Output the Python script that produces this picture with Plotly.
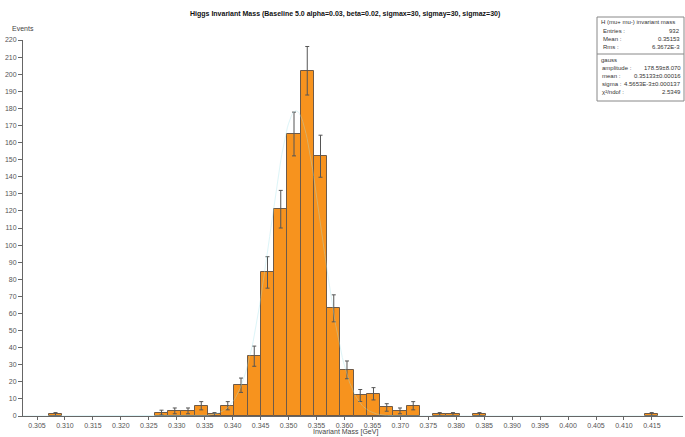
import numpy as np
import plotly.graph_objects as go

# ---- data ----
bin_start = 0.30713
bin_width = 0.00237
counts = [1, 0, 0, 0, 0, 0, 0, 0,
          2, 3, 3, 6, 1, 6, 18, 35, 84, 121, 165, 202, 152, 63, 27, 12, 13, 5, 3, 6,
          0, 1, 1, 0, 1, 0, 0, 0, 0, 0, 0, 0, 0, 0, 0, 0, 0, 1]
errors = [1.0, 0, 0, 0, 0, 0, 0, 0,
          1.4, 1.7, 1.7, 2.4, 1.0, 2.4, 4.2, 5.9, 9.2, 11.0, 12.8, 14.2, 12.3, 7.9, 5.2, 3.5, 3.6, 2.2, 1.7, 2.4,
          0, 1.0, 1.0, 0, 1.0, 0, 0, 0, 0, 0, 0, 0, 0, 0, 0, 0, 0, 1.0]
x_ticks = [0.305, 0.310, 0.315, 0.320, 0.325, 0.330, 0.335, 0.340, 0.345, 0.350, 0.355, 0.360,
           0.365, 0.370, 0.375, 0.380, 0.385, 0.390, 0.395, 0.400, 0.405, 0.410, 0.415]
y_ticks = list(range(0, 221, 10))

# gauss fit parameters
fit_amp = 178.59
fit_mean = 0.35133
fit_sigma = 4.5653e-3

title = "Higgs Invariant Mass (Baseline 5.0 alpha=0.03, beta=0.02, sigmax=30, sigmay=30, sigmaz=30)"
stats_header = "H (mu+ mu-) invariant mass"
stats_rows = [("Entries :", "932"), ("Mean :", "0.35153"), ("Rms :", "6.3672E-3")]
fit_header = "gauss"
fit_rows = [("amplitude :", "178.59±8.070"), ("mean :", "0.35133±0.00016"),
            ("sigma :", "4.5653E-3±0.000137"), ("χ²/ndof :", "2.5349")]

# ---- figure ----
W, H = 685, 437
L, R, T, B = 23, 2, 40, 21
pw, ph = W - L - R, H - T - B

def px(x):
    return (x - L) / pw

def py(y):
    return (H - B - y) / ph

counts_a = np.array(counts, dtype=float)
err_a = np.array(errors, dtype=float)
centers = bin_start + bin_width * (np.arange(len(counts)) + 0.5)
mask = counts_a > 0

FONT = "Liberation Sans, Arial, sans-serif"
fig = go.Figure()
fig.add_trace(go.Bar(
    x=centers[mask], y=counts_a[mask], width=bin_width,
    marker=dict(color="#f7931e", line=dict(color="#6e5a48", width=1)),
    error_y=dict(type="data", array=err_a[mask], visible=True, color="#555555",
                 thickness=1, width=2),
    showlegend=False,
))
xf = np.linspace(0.3025, 0.4205, 600)
fig.add_trace(go.Scatter(
    x=xf, y=fit_amp * np.exp(-0.5 * ((xf - fit_mean) / fit_sigma) ** 2),
    mode="lines", line=dict(color="#9fe3ec", width=1), opacity=0.35, showlegend=False,
    hoverinfo="skip",
))

x0 = 0.305 - (37 - L) / 27.95 * 0.005
x1 = x0 + pw / 27.95 * 0.005
fig.update_layout(
    width=W, height=H,
    margin=dict(l=L, r=R, t=T, b=B),
    plot_bgcolor="white", paper_bgcolor="white",
    bargap=0,
    font=dict(family=FONT, size=7, color="#555555"),
    xaxis=dict(range=[x0, x1], tickvals=x_ticks, ticktext=[f"{v:.3f}" for v in x_ticks],
               showgrid=False, zeroline=False, showline=True, linecolor="#666666",
               linewidth=1, ticks="outside", ticklen=3, tickcolor="#666666",
               tickfont=dict(size=7, color="#555555")),
    yaxis=dict(range=[0, 220], tickvals=y_ticks, showgrid=False, zeroline=False,
               showline=True, linecolor="#666666", linewidth=1, ticks="outside",
               ticklen=4, tickcolor="#666666", tickfont=dict(size=7, color="#555555")),
)

ann = []
ann.append(dict(text="<b>" + title + "</b>", x=px(345), y=py(14), xanchor="center",
                yanchor="middle", font=dict(size=7, color="#111111")))
ann.append(dict(text="Events", x=px(10), y=py(28), xanchor="left", yanchor="middle",
                font=dict(size=7, color="#444444")))
ann.append(dict(text="Invariant Mass [GeV]", x=px(345), y=py(432), xanchor="center",
                yanchor="middle", font=dict(size=7, color="#444444")))

# stats box
bx0, bx1, by0, by1, bsep = 597, 684, 17, 101, 54
SF = 6
shapes = [
    dict(type="rect", xref="paper", yref="paper", x0=px(bx0), x1=px(bx1), y0=py(by0), y1=py(by1),
         line=dict(color="#888888", width=1), fillcolor="white", layer="above"),
    dict(type="line", xref="paper", yref="paper", x0=px(bx0), x1=px(bx1), y0=py(bsep), y1=py(bsep),
         line=dict(color="#888888", width=1), layer="above"),
]
ann.append(dict(text=stats_header, x=px(598.5), y=py(22), xanchor="left", yanchor="middle",
                font=dict(size=SF, color="#333333")))
for i, (lab, val) in enumerate(stats_rows):
    yy = 31 + 8 * i
    ann.append(dict(text=lab, x=px(601), y=py(yy), xanchor="left", yanchor="middle",
                    font=dict(size=SF, color="#333333")))
    ann.append(dict(text=val, x=px(682), y=py(yy), xanchor="right", yanchor="middle",
                    font=dict(size=SF, color="#333333")))
ann.append(dict(text=fit_header, x=px(598.5), y=py(60), xanchor="left", yanchor="middle",
                font=dict(size=SF, color="#333333")))
for i, (lab, val) in enumerate(fit_rows):
    yy = 68 + 8 * i
    ann.append(dict(text=lab, x=px(600), y=py(yy), xanchor="left", yanchor="middle",
                    font=dict(size=SF, color="#333333")))
    ann.append(dict(text=val, x=px(682.5), y=py(yy), xanchor="right", yanchor="middle",
                    font=dict(size=SF, color="#333333")))
for a in ann:
    a.update(xref="paper", yref="paper", showarrow=False)
fig.update_layout(annotations=ann, shapes=shapes)

fig.write_html("out.html")
